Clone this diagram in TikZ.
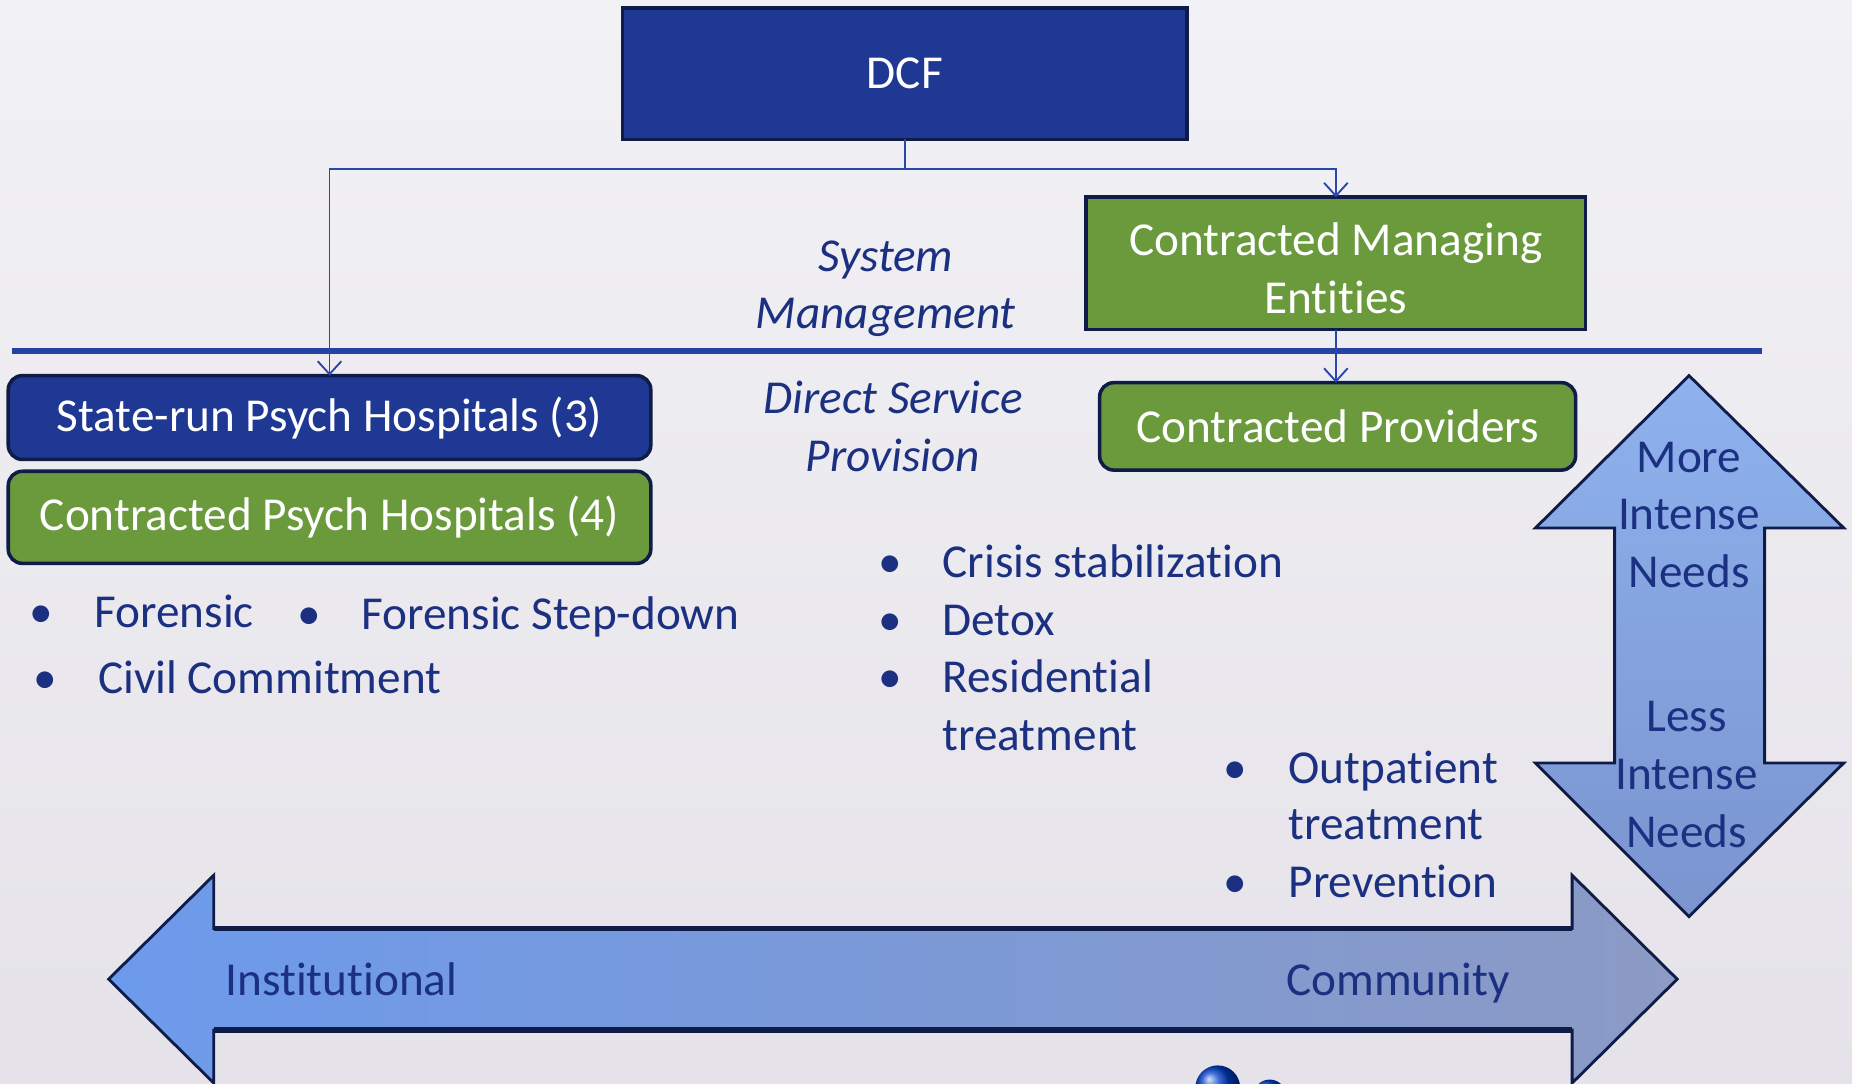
\documentclass[tikz,border=0pt]{standalone}
\usepackage{fontspec}
\setmainfont[Ligatures={NoCommon}]{Carlito}
\usetikzlibrary{arrows.meta,shadings}

\definecolor{papertop}{RGB}{242,241,245}
\definecolor{paperbot}{RGB}{229,227,233}
\definecolor{navybox}{RGB}{31,56,148}
\definecolor{greenbox}{RGB}{106,154,60}
\definecolor{edgenavy}{RGB}{16,28,72}
\definecolor{inknavy}{RGB}{28,48,130}
\definecolor{linkblue}{RGB}{42,72,172}
\definecolor{rulerblue}{RGB}{36,66,160}
\definecolor{arrowtop}{RGB}{142,178,238}
\definecolor{arrowbot}{RGB}{122,148,206}
\definecolor{arrowleft}{RGB}{108,154,236}
\definecolor{arrowright}{RGB}{140,154,196}

\tikzset{
  every node/.style={font=\fontsize{40}{49}\selectfont, inner sep=0pt, outer sep=0pt},
  orgbox/.style={draw=edgenavy, line width=3pt, text=white, align=center},
  bluebox/.style={orgbox, fill=navybox},
  greenbox/.style={orgbox, fill=greenbox},
  roundbox/.style={rounded corners=12pt},
  conn/.style={draw=linkblue, line width=1.6pt},
  tip/.style={-{Straight Barb[length=11pt,width=20pt,line width=1.6pt]}},
  ink/.style={text=inknavy},
  label/.style={ink, font=\fontsize{40}{49}\selectfont\itshape, align=center},
  item/.style={ink, anchor=base west},
  dot/.style={ink, anchor=base},
  bigarrow/.style={draw=edgenavy, line width=2.4pt, line join=miter},
}

\begin{document}
\begin{tikzpicture}[x=1pt,y=-1pt]
  % canvas
  \clip (0,0) rectangle (1568,917);
  \shade[top color=papertop, bottom color=paperbot] (0,0) rectangle (1568,917);

  % organisation boxes
  \node[bluebox, minimum width=478pt, minimum height=111pt] (dcf) at (766,62.5) {DCF};
  \node[greenbox, minimum width=423pt, minimum height=112pt] (cme) at (1131,223)
       {\raisebox{-8pt}[\height][\depth]{\begin{tabular}{@{}c@{}}Contracted Managing\\Entities\end{tabular}}};
  \node[greenbox, roundbox, minimum width=403pt, minimum height=74pt] (cp) at (1132.5,361)
       {Contracted Providers};
  \node[bluebox, roundbox, minimum width=544pt, minimum height=71pt] (sr) at (279,353.5)
       {State-run Psych Hospitals (3)};
  \node[greenbox, roundbox, minimum width=544pt, minimum height=78pt] (cph) at (279,438)
       {Contracted Psych Hospitals (4)};

  % divider between management and service provision
  \draw[draw=rulerblue, line width=5pt] (10,297) -- (1492,297);

  % reporting lines
  \coordinate (junc) at (766,143);
  \draw[conn] (dcf.south) -- (junc);
  \draw[conn, tip] (junc) -| (sr.north);
  \draw[conn, tip] (junc) -| (cme.north);
  \draw[conn, tip] (cme.south) -- (cme.south |- cp.north);

  % level labels
  \node[label] (sysm) at (750,244.5) {System\\Management};
  \node[label] (dsp) at (756,361) {Direct Service\\Provision};

  % hospital services
  \node[dot] (b1) at (35,531) {•};
  \node[item] (t1) at (80,531) {Forensic};
  \node[dot] (b2) at (262,533) {•};
  \node[item] (t2) at (306,533) {Forensic Step-down};
  \node[dot] (b3) at (38,587) {•};
  \node[item] (t3) at (83,587) {Civil Commitment};

  % provider services
  \node[dot] (b4) at (754,489) {•};
  \node[item] (t4) at (798,489) {Crisis stabilization};
  \node[dot] (b5) at (754,538) {•};
  \node[item] (t5) at (798,538) {Detox};
  \node[dot] (b6) at (754,586) {•};
  \node[item] (t6) at (798,586) {Residential};
  \node[item] (t6b) at (798,635) {treatment};
  \node[dot] (b7) at (1046,663) {•};
  \node[item] (t7) at (1091,663) {Outpatient};
  \node[item] (t7b) at (1091,711) {treatment};
  \node[dot] (b8) at (1046,760) {•};
  \node[item] (t8) at (1091,760) {Prevention};

  % intensity scale
  \path[bigarrow, top color=arrowtop, bottom color=arrowbot]
    (1430,318) -- (1561,447) -- (1494,447) -- (1494,646) -- (1561,646)
    -- (1430,776) -- (1300,646) -- (1367,646) -- (1367,447) -- (1300,447) -- cycle;
  \node[ink, align=center] (more) at (1430,436) {More\\Intense\\Needs};
  \node[ink, align=center] (less) at (1428,656) {Less\\Intense\\Needs};

  % setting scale
  \path[bigarrow, left color=arrowleft, right color=arrowright]
    (92,829) -- (181,741) -- (181,786) -- (1331,786) -- (1331,741) -- (1420,829)
    -- (1331,917) -- (1331,872) -- (181,872) -- (181,917) -- cycle;
  \draw[edgenavy, line width=4.5pt] (181,786) -- (1331,786);
  \draw[edgenavy, line width=4.5pt] (181,872) -- (1331,872);
  \node[ink, anchor=base west] (inst) at (191,843) {Institutional};
  \node[ink, anchor=base east] (comm) at (1278,843) {Community};

  % logo fragment
  \shade[ball color=blue!70!cyan!80!black] (1031,921) circle (19);
  \shade[ball color=blue!70!cyan!80!black] (1075,928) circle (14);
\end{tikzpicture}
\end{document}
